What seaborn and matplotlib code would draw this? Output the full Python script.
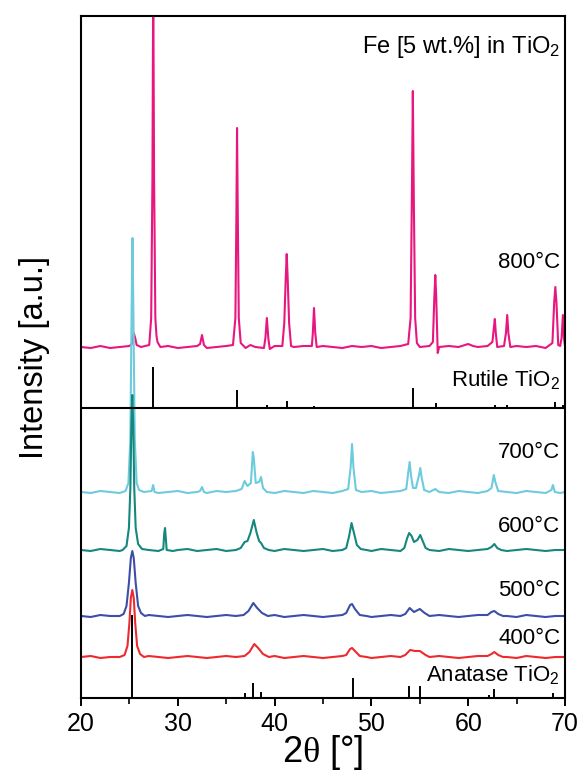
import numpy as np
import pandas as pd
import seaborn as sns
import matplotlib
matplotlib.use("Agg")
import matplotlib.pyplot as plt
from matplotlib.ticker import MultipleLocator

# ---------------- data (2theta, intensity in a.u., stacked) ----------------
two_theta_800 = [20.0, 21, 22, 23, 24, 25.0, 25.25, 25.45, 25.6, 25.75, 26.2, 27.05, 27.25, 27.38, 27.46, 27.55,
                 27.68, 27.8, 27.9, 28.2, 29, 30, 31, 32, 32.3, 32.5, 32.7, 33, 34, 35, 35.7, 35.95, 36.05, 36.12,
                 36.2, 36.3, 36.5, 37, 37.5, 38, 38.9, 39.05, 39.2, 39.35, 39.5, 40, 40.8, 41.0, 41.15, 41.25,
                 41.35, 41.5, 41.7, 42, 43, 43.85, 43.95, 44.07, 44.2, 44.35, 45, 46, 47, 48, 49, 50, 51, 52, 53,
                 53.8, 54.05, 54.18, 54.28, 54.38, 54.52, 54.7, 55, 56, 56.35, 56.5, 56.6, 56.7, 56.85, 57.0, 58,
                 59, 60, 60.5, 61, 62, 62.5, 62.65, 62.75, 62.85, 63.0, 63.7, 63.9, 64.03, 64.15, 64.35, 65, 66,
                 67, 68, 68.7, 68.88, 69.0, 69.12, 69.3, 69.5, 69.65, 69.78, 69.9, 70]
intensity_800 = [351, 350, 352, 350, 351, 352, 354, 365, 360, 353, 351, 353, 380, 520, 720, 520,
                 380, 362, 356, 351, 352, 350, 351, 352, 354, 363, 353, 350, 351, 352, 353, 380, 480, 570,
                 480, 380, 355, 350, 353, 351, 350, 360, 380, 360, 349, 352, 352, 375, 420, 444,
                 420, 375, 352, 351, 352, 352, 365, 390, 365, 351, 352, 351, 350, 352, 351, 352, 350, 351, 352,
                 354, 380, 500, 607, 500, 380, 355, 351, 352, 356, 400, 423, 400, 345, 351, 352,
                 351, 354, 352, 351, 352, 356, 370, 379, 365, 351, 352, 365, 383, 365, 351, 352, 351,
                 352, 350, 355, 395, 411, 395, 353, 352, 360, 383, 360, 352]

two_theta_700 = [20, 21, 22, 23, 24, 24.6, 24.9, 25.1, 25.22, 25.32, 25.42, 25.55, 25.75, 26.0, 26.5, 27.3,
                 27.45, 27.6, 28, 29, 30, 31, 32, 32.3, 32.5, 32.7, 33, 34, 35, 36, 36.6, 36.9, 37.2, 37.55,
                 37.75, 37.85, 38.05, 38.4, 38.6, 38.8, 39.2, 40, 41, 42, 43, 44, 45, 46, 47, 47.6, 47.85,
                 48.0, 48.15, 48.4, 49, 50, 51, 52, 53, 53.6, 53.8, 53.95, 54.1, 54.3, 54.6, 54.9, 55.05,
                 55.2, 55.45, 56, 56.6, 57, 58, 59, 60, 61, 62, 62.4, 62.65, 62.8, 63.1, 64, 65, 66, 67, 68,
                 68.6, 68.75, 68.95, 69.5, 70]
intensity_700 = [206, 205, 207, 206, 205, 207, 215, 260, 380, 460, 380, 260, 215, 208, 206, 207,
                 213, 206, 205, 206, 207, 205, 206, 207, 211, 206, 205, 207, 206, 207, 209, 217, 212, 215,
                 246, 240, 215, 216, 221, 210, 206, 205, 207, 206, 205, 207, 206, 205, 207, 209, 230,
                 254, 230, 208, 206, 207, 205, 206, 207, 209, 225, 236, 222, 210, 210, 222, 230,
                 220, 208, 206, 209, 206, 205, 207, 206, 205, 207, 210, 223, 216, 207, 206, 205, 207, 206, 205,
                 208, 213, 206, 205, 206]

two_theta_600 = [20, 21, 22, 23, 24, 24.3, 24.7, 24.95, 25.1, 25.2, 25.3, 25.4, 25.5, 25.65, 25.9, 26.3, 27,
                 28, 28.5, 28.6, 28.68, 28.76, 28.85, 29.5, 30, 31, 32, 33, 34, 35, 36, 36.5, 36.9, 37.2,
                 37.5, 37.85, 38.15, 38.4, 38.6, 38.9, 39.4, 40, 41, 42, 43, 44, 45, 46, 47, 47.4, 47.7,
                 47.95, 48.2, 48.5, 48.9, 49.5, 50, 51, 52, 53, 53.4, 53.7, 53.9, 54.15, 54.4, 54.75, 55.05,
                 55.3, 55.6, 56, 57, 58, 59, 60, 61, 62, 62.4, 62.7, 63.0, 63.4, 64, 65, 66, 67, 68, 69, 70]
intensity_600 = [148, 147, 149, 148, 147, 148, 152, 170, 210, 270, 303, 270, 210, 170, 154, 149, 148,
                 147, 149, 165, 170, 160, 148, 147, 148, 149, 147, 148, 149, 147, 148, 150, 156, 157,
                 165, 178, 165, 157, 155, 150, 148, 147, 149, 148, 147, 148, 149, 147, 148, 150, 162,
                 175, 165, 153, 149, 148, 147, 149, 148, 147, 150, 160, 165, 162, 156, 158, 163,
                 157, 150, 148, 147, 149, 148, 147, 148, 149, 151, 154, 150, 148, 147, 148, 149, 148, 147, 148, 148]

two_theta_500 = [20, 21, 22, 23, 24.0, 24.4, 24.7, 24.95, 25.15, 25.3, 25.45, 25.65, 25.9, 26.2, 26.6, 27, 28,
                 29, 30, 31, 32, 33, 34, 35, 36, 36.8, 37.3, 37.8, 38.2, 38.7, 39.3, 40, 41, 42, 43, 44, 45,
                 46, 47, 47.4, 47.8, 48.0, 48.3, 48.8, 49.5, 50, 51, 52, 53, 53.5, 53.95, 54.4, 55.0, 55.5,
                 56, 57, 58, 59, 60, 61, 62, 62.4, 62.7, 63.1, 63.6, 64, 65, 66, 67, 68, 69, 70]
intensity_500 = [82, 81, 83, 82, 82, 84, 92, 115, 140, 147, 140, 115, 92, 85, 82, 83, 82,
                 81, 82, 83, 82, 81, 82, 83, 82, 83, 87, 95, 90, 85, 82, 83, 81, 82, 83, 82, 81,
                 82, 83, 85, 93, 94, 89, 83, 82, 81, 82, 83, 82, 84, 90, 86, 89, 85,
                 82, 83, 82, 81, 82, 83, 83, 86, 87, 84, 82, 82, 81, 83, 82, 81, 82, 82]

two_theta_400 = [20, 21, 22, 23, 24.0, 24.5, 24.8, 25.0, 25.15, 25.3, 25.45, 25.6, 25.8, 26.1, 26.5, 27, 28,
                 29, 30, 31, 32, 33, 34, 35, 36, 36.9, 37.4, 37.9, 38.3, 38.8, 39.4, 40, 41, 42, 43, 44, 45,
                 46, 47, 47.4, 47.8, 48.0, 48.3, 48.8, 49.5, 50, 51, 52, 53, 53.5, 54.0, 54.5, 55.0, 55.6,
                 56, 57, 58, 59, 60, 61, 62, 62.4, 62.7, 63.1, 63.6, 64, 65, 66, 67, 68, 69, 70]
intensity_400 = [41, 42, 40, 41, 41, 43, 52, 75, 100, 108, 100, 75, 52, 44, 41, 42, 41,
                 40, 41, 42, 41, 40, 41, 42, 41, 42, 46, 54, 50, 44, 41, 42, 40, 41, 42, 41, 40,
                 41, 42, 43, 49, 50, 47, 42, 41, 40, 41, 42, 41, 43, 48, 47, 47, 43,
                 41, 42, 41, 40, 41, 42, 42, 44, 46, 43, 41, 41, 40, 42, 41, 40, 41, 41]

rutile_positions = [27.45, 36.09, 39.2, 41.25, 44.05, 54.33, 56.64, 62.75, 64.04, 69.0, 69.8]
rutile_heights = [41, 18, 3, 7, 2, 20, 5, 3, 3, 6, 3]
rutile_base = 290

anatase_positions = [25.3, 36.95, 37.8, 38.58, 48.05, 53.9, 55.06, 62.1, 62.7, 68.76]
anatase_heights = [83, 5, 15, 6, 20, 12, 12, 3, 9, 5]

series_labels = ["800", "700", "600", "500", "400"]
series_x = [two_theta_800, two_theta_700, two_theta_600, two_theta_500, two_theta_400]
series_y = [intensity_800, intensity_700, intensity_600, intensity_500, intensity_400]
series_colors = ["#E8177F", "#6ECBDD", "#15877E", "#3B4FA8", "#EE2A2F"]

frames = []
for lab, xs, ys in zip(series_labels, series_x, series_y):
    frames.append(pd.DataFrame({"2theta": xs, "I": ys, "T": lab}))
df = pd.concat(frames, ignore_index=True)

# ---------------- plotting ----------------
sns.set_theme(style="ticks")
plt.rcParams["font.family"] = ["Liberation Sans", "DejaVu Sans"]
plt.rcParams["mathtext.fontset"] = "custom"
plt.rcParams["mathtext.rm"] = "Liberation Serif"
plt.rcParams["mathtext.sf"] = "Liberation Sans"
plt.rcParams["mathtext.it"] = "Liberation Sans:italic"
plt.rcParams["mathtext.bf"] = "Liberation Sans:bold"
plt.rcParams["text.color"] = "black"
plt.rcParams["axes.labelcolor"] = "black"
plt.rcParams["xtick.color"] = "black"
plt.rcParams["xtick.labelcolor"] = "black"

fig = plt.figure(figsize=(5.81, 7.74), dpi=100)
ax = fig.add_axes([81 / 581, 1 - 698 / 774, (565 - 81) / 581, (698 - 16) / 774])

for lab, col in zip(series_labels, series_colors):
    sub = df[df["T"] == lab]
    sns.lineplot(data=sub, x="2theta", y="I", ax=ax, color=col, lw=1.5,
                 estimator=None, sort=False, legend=False)

ax.vlines(rutile_positions, rutile_base, [rutile_base + h for h in rutile_heights],
          color="black", lw=1.4)
ax.vlines(anatase_positions, 0, anatase_heights, color="black", lw=1.4)
ax.axhline(rutile_base, color="black", lw=1.5)

ax.set_xlim(20, 70)
ax.set_ylim(0, 682)
ax.xaxis.set_major_locator(MultipleLocator(10))
ax.xaxis.set_minor_locator(MultipleLocator(5))
ax.tick_params(axis="x", which="major", direction="out", length=6, width=1.4,
               labelsize=18, pad=4, colors="black", labelcolor="black")
ax.tick_params(axis="x", which="minor", direction="out", length=4, width=1.2, colors="black")
ax.set_yticks([])
for s in ax.spines.values():
    s.set_linewidth(1.5)
    s.set_color("black")
    s.set_visible(True)

ax.set_xlabel("2$\\mathrm{\\theta}$ [°]", fontsize=26, labelpad=-2, color="black")
ax.set_ylabel("Intensity [a.u.]", fontsize=23.5, labelpad=22, color="black")

tx = 0.99
fs = 16
ax.text(tx, 651, "Fe [5 wt.%] in TiO$_{\\mathsf{2}}$", ha="right", va="center", fontsize=17,
        color="black", transform=ax.get_yaxis_transform())
temp_y = [435, 245, 171, 108, 59]
for lab, yy in zip(series_labels, temp_y):
    ax.text(tx, yy, lab + "°C", ha="right", va="center", fontsize=fs, color="black",
            transform=ax.get_yaxis_transform())
ax.text(tx, 318, "Rutile TiO$_{\\mathsf{2}}$", ha="right", va="center", fontsize=fs,
        color="black", transform=ax.get_yaxis_transform())
ax.text(tx, 23, "Anatase TiO$_{\\mathsf{2}}$", ha="right", va="center", fontsize=fs,
        color="black", transform=ax.get_yaxis_transform())

fig.savefig("out.png", dpi=100)
